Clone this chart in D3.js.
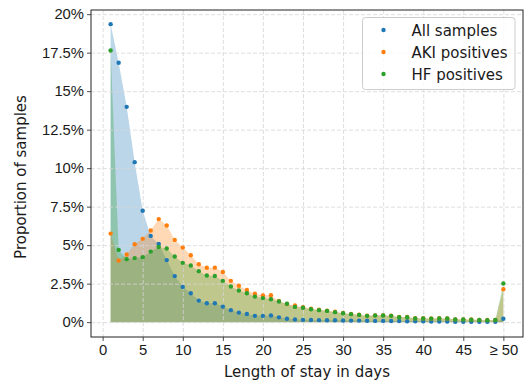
<!DOCTYPE html>
<html>
<head>
<meta charset="utf-8">
<script src="https://cdn.jsdelivr.net/npm/d3@7/dist/d3.min.js"></script>
<style>
    body { margin: 0; background: #fff; }
    svg { font-family: 'DejaVu Sans', sans-serif; }
    .tick text { font-size: 14.8px; fill: #1a1a1a; }
    .grid line { stroke: #d6d6d6; stroke-dasharray: 4,2; stroke-width: 0.8; }
    .grid .domain { display: none; }
</style>
</head>
<body>
<svg width="531" height="385"></svg>
<script>
// days on the x axis (50 = "50 or more")
var days = [1, 2, 3, 4, 5, 6, 7, 8, 9, 10, 11, 12, 13, 14, 15, 16, 17, 18, 19, 20,
    21, 22, 23, 24, 25, 26, 27, 28, 29, 30, 31, 32, 33, 34, 35, 36, 37, 38, 39, 40,
    41, 42, 43, 44, 45, 46, 47, 48, 49, 50];

// proportion of samples in percent, one value per day
var allSamples = [19.35, 16.84, 13.98, 10.39, 7.23, 5.60, 5.08, 4.03, 2.99, 2.29,
    1.88, 1.40, 1.23, 1.23, 1.01, 0.78, 0.62, 0.53, 0.41, 0.41,
    0.43, 0.31, 0.22, 0.17, 0.15, 0.14, 0.13, 0.12, 0.12, 0.11,
    0.10, 0.10, 0.09, 0.08, 0.08, 0.07, 0.07, 0.06, 0.05, 0.05,
    0.04, 0.04, 0.04, 0.03, 0.03, 0.03, 0.03, 0.02, 0.02, 0.22];

var akiPositives = [5.75, 4.00, 4.39, 5.06, 5.41, 5.95, 6.69, 6.28, 5.34, 4.84,
    4.34, 3.76, 3.53, 3.54, 3.26, 2.68, 2.36, 2.09, 1.84, 1.74,
    1.75, 1.38, 1.18, 1.08, 0.97, 0.88, 0.81, 0.75, 0.68, 0.60,
    0.53, 0.48, 0.42, 0.44, 0.44, 0.42, 0.33, 0.33, 0.25, 0.25,
    0.24, 0.25, 0.24, 0.18, 0.18, 0.17, 0.15, 0.14, 0.14, 2.14];

var hfPositives = [17.64, 4.69, 4.09, 4.16, 4.22, 4.58, 4.88, 4.78, 4.26, 3.85,
    3.68, 3.31, 3.03, 3.00, 2.68, 2.31, 2.05, 1.88, 1.66, 1.56,
    1.49, 1.34, 1.19, 0.99, 0.93, 0.84, 0.78, 0.73, 0.65, 0.58,
    0.52, 0.47, 0.41, 0.43, 0.43, 0.41, 0.32, 0.32, 0.24, 0.24,
    0.23, 0.24, 0.24, 0.17, 0.17, 0.16, 0.14, 0.13, 0.14, 2.51];

var seriesNames = ['All samples', 'AKI positives', 'HF positives'];
var seriesColors = ['#1f77b4', '#ff7f0e', '#2ca02c'];

// tick values and labels
var xTicks = [0, 5, 10, 15, 20, 25, 30, 35, 40, 45, 50];
var xTickLabels = ['0', '5', '10', '15', '20', '25', '30', '35', '40', '45', '\u2265 50'];
var yTicks = [0, 2.5, 5, 7.5, 10, 12.5, 15, 17.5, 20];
var yTickLabels = ['0%', '2.5%', '5%', '7.5%', '10%', '12.5%', '15%', '17.5%', '20%'];

var svg = d3.select('svg');

// plot area in pixels
var plot = {l: 91, r: 523, t: 10, b: 337};

var xScale = d3.scaleLinear()
    .domain([-1.45, 52.45])
    .range([plot.l, plot.r]);

var yScale = d3.scaleLinear()
    .domain([-0.965, 20.27])
    .range([plot.b, plot.t]);

var series = [allSamples, akiPositives, hfPositives].map(function(vals, i) {
    return {
        name: seriesNames[i],
        color: seriesColors[i],
        points: days.map(function(d, j) { return {day: d, value: vals[j]}; })
    };
});

// shaded areas under each series
var area = d3.area()
    .x(function(d) { return xScale(d.day); })
    .y0(yScale(0))
    .y1(function(d) { return yScale(d.value); });

svg.append('g').selectAll('path')
    .data(series)
    .enter()
    .append('path')
    .attr('d', function(s) { return area(s.points); })
    .style('fill', function(s) { return s.color; })
    .style('fill-opacity', 0.3)
    .style('stroke', 'none');

// grid lines
svg.append('g')
    .attr('class', 'grid')
    .attr('transform', 'translate(0,' + plot.t + ')')
    .call(d3.axisTop(xScale)
        .tickValues(xTicks)
        .tickSize(-(plot.b - plot.t))
        .tickFormat(''));

svg.append('g')
    .attr('class', 'grid')
    .attr('transform', 'translate(' + plot.l + ',0)')
    .call(d3.axisLeft(yScale)
        .tickValues(yTicks)
        .tickSize(-(plot.r - plot.l))
        .tickFormat(''));

// dots
series.forEach(function(s) {
    svg.append('g').selectAll('circle')
        .data(s.points)
        .enter()
        .append('circle')
        .attr('cx', function(d) { return xScale(d.day); })
        .attr('cy', function(d) { return yScale(d.value); })
        .attr('r', 2.2)
        .style('fill', s.color);
});

// axes
var xAxis = svg.append('g')
    .attr('transform', 'translate(0,' + plot.b + ')')
    .call(d3.axisBottom(xScale)
        .tickValues(xTicks)
        .tickSize(4)
        .tickPadding(3)
        .tickFormat(function(d, i) { return xTickLabels[i]; }));

var yAxis = svg.append('g')
    .attr('transform', 'translate(' + plot.l + ',0)')
    .call(d3.axisLeft(yScale)
        .tickValues(yTicks)
        .tickSize(4)
        .tickPadding(3)
        .tickFormat(function(d, i) { return yTickLabels[i]; }));

[xAxis, yAxis].forEach(function(ax) {
    ax.select('.domain').remove();
    ax.selectAll('.tick line').style('stroke', '#222').style('stroke-width', 0.8);
});

// spines
svg.append('rect')
    .attr('x', plot.l)
    .attr('y', plot.t)
    .attr('width', plot.r - plot.l)
    .attr('height', plot.b - plot.t)
    .style('fill', 'none')
    .style('stroke', '#222')
    .style('stroke-width', 1);

// axis labels
svg.append('text')
    .attr('x', (plot.l + plot.r) / 2)
    .attr('y', 377)
    .attr('text-anchor', 'middle')
    .style('font-size', '15px')
    .style('fill', '#1a1a1a')
    .text('Length of stay in days');

svg.append('text')
    .attr('transform', 'translate(' + [25.5, 177] + ') rotate(270)')
    .attr('text-anchor', 'middle')
    .style('font-size', '15px')
    .style('fill', '#1a1a1a')
    .text('Proportion of samples');

// legend
var legend = svg.append('g');

legend.append('rect')
    .attr('x', 362.5)
    .attr('y', 17.5)
    .attr('width', 152.5)
    .attr('height', 72)
    .attr('rx', 3)
    .style('fill', '#fff')
    .style('fill-opacity', 0.8)
    .style('stroke', '#cccccc')
    .style('stroke-width', 1);

var legendItem = legend.selectAll('.legend-item')
    .data(series)
    .enter()
    .append('g')
    .attr('class', 'legend-item')
    .attr('transform', function(d, i) { return 'translate(0,' + (30 + i * 22) + ')'; });

legendItem.append('circle')
    .attr('cx', 383.5)
    .attr('cy', 0)
    .attr('r', 2.2)
    .style('fill', function(d) { return d.color; });

legendItem.append('text')
    .attr('x', 411.5)
    .attr('y', 5.5)
    .style('font-size', '15px')
    .style('fill', '#1a1a1a')
    .text(function(d) { return d.name; });
</script>
</body>
</html>
